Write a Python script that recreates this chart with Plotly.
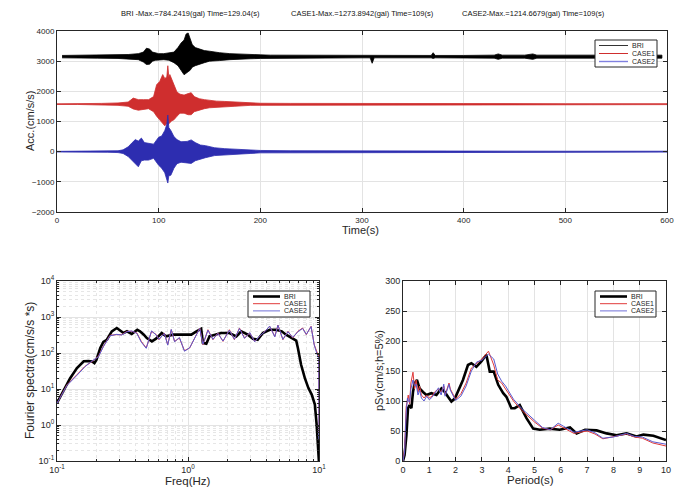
import plotly.graph_objects as go

# ---------------- data ----------------
series_names = ["BRI", "CASE1", "CASE2"]
offset_step = 1575  # vertical separation of time histories (gal)

# Time-history envelopes (upper / lower deviation from each trace's baseline)
t_bri = [5, 20, 40, 60, 70, 80, 85, 88, 91, 94, 97, 100, 105, 110, 115, 119, 122, 125, 127, 129,
         131, 133, 136, 140, 145, 150, 155, 160, 170, 180, 190, 200, 210, 230, 260, 300, 308, 310,
         312, 330, 360, 368, 370, 372, 400, 430, 434, 438, 460, 468, 472, 500, 530, 560, 595]
up_bri = [40, 50, 50, 60, 70, 100, 150, 280, 250, 150, 120, 100, 100, 120, 150, 300, 450, 550, 750, 784,
          600, 400, 300, 250, 200, 180, 150, 130, 100, 80, 70, 60, 50, 50, 40, 40, 40, 60,
          40, 40, 40, 40, 130, 40, 40, 50, 90, 50, 50, 90, 50, 50, 50, 50, 50]
lo_bri = [-40, -50, -50, -60, -70, -100, -180, -260, -250, -150, -120, -100, -100, -120, -200, -300, -450, -600, -550, -500,
          -450, -350, -300, -250, -200, -150, -150, -130, -100, -80, -70, -60, -50, -50, -40, -40, -40, -220,
          -40, -40, -40, -40, -60, -40, -40, -50, -90, -50, -50, -90, -50, -50, -50, -50, -50]

t_c1 = [0, 20, 44, 60, 70, 75, 80, 85, 90, 95, 98, 101, 104, 106, 108, 109, 110, 111, 113, 115,
        118, 121, 125, 129, 132, 135, 140, 145, 150, 157, 165, 175, 190, 200, 230, 260, 300, 400, 500, 600]
up_c1 = [10, 10, 25, 40, 70, 200, 150, 150, 150, 250, 645, 750, 980, 850, 900, 1274, 900, 980, 800, 600,
         400, 330, 300, 350, 380, 250, 180, 150, 120, 100, 90, 70, 40, 30, 25, 20, 20, 20, 15, 15]
lo_c1 = [-10, -10, -25, -40, -70, -160, -200, -180, -150, -250, -400, -520, -650, -720, -650, -700, -650, -600, -550, -520,
         -400, -300, -300, -350, -350, -250, -200, -150, -120, -100, -90, -70, -40, -30, -25, -20, -20, -20, -15, -15]

t_c2 = [0, 30, 50, 60, 65, 70, 74, 77, 80, 83, 86, 90, 95, 100, 103, 106, 108, 109, 110, 112,
        115, 118, 122, 128, 132, 136, 141, 146, 155, 165, 175, 190, 200, 230, 260, 300, 400, 500, 600]
up_c2 = [10, 15, 20, 30, 60, 160, 300, 400, 350, 450, 300, 280, 250, 480, 520, 700, 900, 1215, 800, 700,
         500, 400, 330, 340, 390, 300, 220, 200, 130, 100, 80, 60, 40, 30, 25, 20, 20, 15, 15]
lo_c2 = [-10, -15, -20, -30, -60, -160, -280, -400, -500, -300, -280, -280, -220, -450, -550, -700, -900, -1040, -800, -780,
         -550, -400, -350, -380, -390, -300, -250, -200, -130, -100, -80, -60, -40, -30, -25, -20, -20, -15, -15]

titles_top = ["BRI -Max.=784.2419(gal) Time=129.04(s)",
              "CASE1-Max.=1273.8942(gal) Time=109(s)",
              "CASE2-Max.=1214.6679(gal) Time=109(s)"]

# Fourier spectra
f_bri = [0.1, 0.112, 0.126, 0.142, 0.16, 0.174, 0.185, 0.193, 0.2, 0.214, 0.226, 0.24, 0.262, 0.286, 0.3,
         0.322, 0.342, 0.372, 0.41, 0.43, 0.46, 0.485, 0.53, 0.57, 0.63, 0.68, 0.77, 0.86, 0.97, 1.06,
         1.16, 1.26, 1.3, 1.38, 1.46, 1.6, 1.79, 2.07, 2.34, 2.55, 2.86, 3.13, 3.4, 3.73, 4.2,
         4.7, 5.2, 5.6, 6.3, 6.7, 6.9, 7.3, 7.8, 8.3, 8.8, 9.3, 9.6, 9.96, 10]
a_bri = [4.1, 8.6, 20, 38, 59, 60, 58, 52, 64, 138, 202, 234, 400, 495, 443,
         360, 400, 336, 443, 400, 323, 260, 210, 250, 360, 290, 323, 323, 323, 323,
         400, 470, 190, 180, 290, 323, 360, 360, 290, 400, 323, 250, 234, 360, 443,
         443, 400, 323, 250, 220, 138, 47, 20, 10.6, 7, 3.7, 1, 0.18, 0.09]
f_case = [0.1, 0.119, 0.142, 0.164, 0.185, 0.207, 0.226, 0.254, 0.286, 0.312, 0.342, 0.372, 0.407, 0.44, 0.48,
          0.527, 0.573, 0.6, 0.66, 0.7, 0.745, 0.79, 0.86, 0.94, 1.03, 1.12, 1.23, 1.3, 1.42, 1.55,
          1.69, 1.85, 2.07, 2.26, 2.47, 2.7, 2.96, 3.23, 3.53, 3.86, 4.2, 4.6, 4.86, 5.3, 5.8,
          6.3, 6.9, 7.5, 8.0, 8.7, 9.2, 9.6, 9.96, 10]
a_c1 = [4, 13, 25, 43, 58, 81, 153, 310, 323, 323, 400, 400, 360, 210, 138,
        400, 323, 234, 360, 170, 443, 210, 260, 116, 138, 260, 495, 170, 443, 234,
        360, 210, 443, 234, 495, 260, 360, 210, 290, 400, 550, 290, 600, 234, 400,
        260, 400, 495, 323, 550, 170, 112, 80, 0.6]
a_c2 = [4, 12.5, 24, 42, 60, 78, 150, 300, 330, 315, 390, 410, 350, 200, 135,
        410, 315, 240, 350, 165, 450, 205, 270, 112, 140, 250, 480, 175, 430, 240,
        350, 215, 430, 240, 480, 255, 370, 205, 300, 390, 560, 280, 590, 240, 390,
        270, 390, 480, 330, 540, 165, 100, 70, 0.4]

# pseudo velocity response spectra
T_bri = [0, 0.06, 0.13, 0.19, 0.25, 0.32, 0.38, 0.44, 0.53, 0.63, 0.76, 0.89, 1.08, 1.27, 1.46,
         1.59, 1.71, 1.84, 1.97, 2.09, 2.28, 2.47, 2.6, 2.79, 2.98, 3.17, 3.3, 3.45, 3.62, 3.81,
         3.93, 4.12, 4.25, 4.44, 4.7, 4.95, 5.2, 5.58, 5.96, 6.35, 6.6, 6.92, 7.36, 7.74, 8.12,
         8.5, 8.88, 9.14, 9.52, 10]
sv_bri = [0, 10, 43, 88, 93, 88, 115, 129, 135, 121, 115, 110, 113, 110, 121,
          115, 107, 99, 104, 115, 135, 160, 163, 157, 166, 177, 149, 149, 127, 113,
          107, 88, 88, 93, 71, 54, 52, 54, 52, 56, 46, 52, 51, 46, 43,
          46, 41, 44, 42, 35]
T_case = [0, 0.06, 0.12, 0.17, 0.2, 0.25, 0.3, 0.38, 0.44, 0.5, 0.57, 0.63, 0.7, 0.8, 0.9,
          1.0, 1.1, 1.2, 1.35, 1.45, 1.55, 1.6, 1.75, 1.8, 1.9, 2.0, 2.2, 2.4, 2.6, 2.8,
          3.0, 3.25, 3.45, 3.6, 3.75, 3.9, 4.2, 4.5, 5.0, 5.3, 5.6, 5.9, 6.1, 6.5, 7.0,
          7.3, 7.6, 8.0, 8.5, 8.8, 9.1, 9.5, 10]
sv_c1 = [0, 20, 90, 100, 110, 95, 130, 148, 120, 135, 115, 125, 110, 105, 110,
         105, 108, 115, 120, 115, 125, 110, 130, 120, 110, 103, 112, 130, 155, 163,
         170, 183, 160, 135, 130, 120, 100, 85, 65, 55, 52, 60, 55, 46, 50,
         45, 37, 40, 45, 40, 38, 30, 25]
sv_c2 = [0, 15, 80, 105, 100, 98, 120, 135, 125, 128, 110, 118, 105, 100, 108,
         102, 106, 112, 122, 110, 128, 108, 128, 118, 108, 101, 108, 125, 150, 165,
         168, 178, 170, 145, 133, 125, 103, 88, 68, 56, 52, 63, 58, 48, 52,
         47, 38, 40, 46, 41, 40, 32, 28]

# ---------------- style ----------------
FONT = "Liberation Sans"
C_BLK, C_RED, C_BLU = "#000000", "#cf2e2e", "#2d2db0"
C_RED_L, C_BLU_L = "#e03a3a", "#5a5ad0"
AXC = "#262626"
GRID = "#e3e3e3"
W, H = 674, 487


def px_x(p):
    return p / W


def px_y(p):
    return 1 - p / H


fig = go.Figure()


# ---- top: time histories as filled envelopes ----
def envelope(t, up, lo, base, color, name):
    xs = list(t) + list(t)[::-1]
    ys = [base + u for u in up] + [base + l for l in lo][::-1]
    fig.add_trace(go.Scatter(x=xs, y=ys, mode="lines", fill="toself", fillcolor=color,
                             line=dict(color=color, width=0.8), name=name, showlegend=False,
                             xaxis="x", yaxis="y", hoverinfo="skip"))


envelope(t_bri, up_bri, lo_bri, 2 * offset_step, C_BLK, "BRI")
envelope(t_c1, up_c1, lo_c1, offset_step, C_RED, "CASE1")
envelope(t_c2, up_c2, lo_c2, 0, C_BLU, "CASE2")

# ---- bottom-left: Fourier spectra ----
fig.add_trace(go.Scatter(x=f_bri, y=a_bri, mode="lines", name="BRI", line=dict(color=C_BLK, width=2.6),
                         xaxis="x2", yaxis="y2", showlegend=False))
fig.add_trace(go.Scatter(x=f_case, y=a_c1, mode="lines", name="CASE1", line=dict(color=C_RED_L, width=1),
                         xaxis="x2", yaxis="y2", showlegend=False))
fig.add_trace(go.Scatter(x=f_case, y=a_c2, mode="lines", name="CASE2", line=dict(color=C_BLU_L, width=1),
                         xaxis="x2", yaxis="y2", showlegend=False))

# ---- bottom-right: pSv ----
fig.add_trace(go.Scatter(x=T_bri, y=sv_bri, mode="lines", name="BRI", line=dict(color=C_BLK, width=2.6),
                         xaxis="x3", yaxis="y3", showlegend=False))
fig.add_trace(go.Scatter(x=T_case, y=sv_c1, mode="lines", name="CASE1", line=dict(color=C_RED_L, width=1),
                         xaxis="x3", yaxis="y3", showlegend=False))
fig.add_trace(go.Scatter(x=T_case, y=sv_c2, mode="lines", name="CASE2", line=dict(color=C_BLU_L, width=1),
                         xaxis="x3", yaxis="y3", showlegend=False))

base_axis = dict(showline=True, linecolor=AXC, linewidth=1, mirror="ticks", ticks="inside",
                 ticklen=4, tickcolor=AXC, showgrid=True, gridcolor=GRID, gridwidth=1,
                 zeroline=False, automargin=False, ticklabeloverflow="allow",
                 tickfont=dict(family=FONT, size=8, color=AXC))

log_minor = dict(showgrid=True, gridcolor="#e6e6e6", griddash="dot", ticks="inside", ticklen=2,
                 tickcolor=AXC)
sup = {-1: "10<sup>-1</sup>", 0: "10<sup>0</sup>", 1: "10<sup>1</sup>", 2: "10<sup>2</sup>",
       3: "10<sup>3</sup>", 4: "10<sup>4</sup>"}

fig.update_layout(
    template="none",
    width=W, height=H, margin=dict(l=0, r=0, t=0, b=0, autoexpand=False),
    paper_bgcolor="white", plot_bgcolor="white", showlegend=False,
    font=dict(family=FONT, color=AXC),
    xaxis=dict(base_axis, domain=[px_x(57), px_x(667)], range=[0, 600], dtick=100, anchor="y"),
    yaxis=dict(base_axis, domain=[px_y(212), px_y(31)], range=[-2000, 4000], dtick=1000, anchor="x"),
    xaxis2=dict(base_axis, type="log", domain=[px_x(57), px_x(319)], range=[-1, 1], anchor="y2",
                tickvals=[0.1, 1, 10], ticktext=[sup[-1], sup[0], sup[1]],
                minor=dict(log_minor, tickvals=[k * 10 ** e for e in (-1, 0) for k in range(2, 10)]),
                tickfont=dict(family=FONT, size=9, color=AXC)),
    yaxis2=dict(base_axis, type="log", domain=[px_y(461), px_y(281)], range=[-1, 4], anchor="x2",
                tickvals=[0.1, 1, 10, 100, 1000, 10000],
                ticktext=[sup[e] for e in range(-1, 5)],
                minor=dict(log_minor, tickvals=[k * 10 ** e for e in (-1, 0, 1, 2, 3) for k in range(2, 10)]),
                tickfont=dict(family=FONT, size=9, color=AXC)),
    xaxis3=dict(base_axis, domain=[px_x(403), px_x(666)], range=[0, 10], dtick=1, anchor="y3",
                tickfont=dict(family=FONT, size=9, color=AXC)),
    yaxis3=dict(base_axis, domain=[px_y(461), px_y(281)], range=[0, 300], dtick=50, anchor="x3",
                tickfont=dict(family=FONT, size=9, color=AXC)),
)

ann = []
shapes = []


def text(txt, x, y, size, angle=0, xanchor="center", color=AXC):
    ann.append(dict(text=txt, x=px_x(x), y=px_y(y), xref="paper", yref="paper", showarrow=False,
                    xanchor=xanchor, yanchor="middle", textangle=angle,
                    font=dict(family=FONT, size=size, color=color)))


for txt, xc in zip(titles_top, [190, 362, 533]):
    text(txt, xc, 13, 7.5, color="#111111")
text("Time(s)", 360, 230, 11)
text("Acc.(cm/s/s)", 30, 121, 11, angle=-90)
text("Fourier spectra(cm/s/s *s)", 30, 371, 12, angle=-90)
text("Freq(Hz)", 188, 481, 11.5)
text("pSv(cm/s;h=5%)", 379, 371, 11, angle=-90)
text("Period(s)", 530, 480, 11.5)


# compact MATLAB-style legends
def legend_box(x0, x1, y0, y1, line_x0, line_x1, rows, text_x, colors, widths):
    shapes.append(dict(type="rect", xref="paper", yref="paper", x0=px_x(x0), x1=px_x(x1),
                       y0=px_y(y1), y1=px_y(y0), line=dict(color=AXC, width=1), fillcolor="white",
                       layer="above"))
    for nm, ry, col, w in zip(series_names, rows, colors, widths):
        shapes.append(dict(type="line", xref="paper", yref="paper", x0=px_x(line_x0), x1=px_x(line_x1),
                           y0=px_y(ry), y1=px_y(ry), line=dict(color=col, width=w), layer="above"))
        text(nm, text_x, ry, 7, xanchor="left")


legend_box(595, 657, 40, 67, 599, 628, [45.5, 53.5, 61.5], 630,
           ["#333333", C_RED, "#8080e0"], [1, 1, 1.4])
legend_box(248, 310, 291, 317, 253, 280, [296.5, 303.7, 310.9], 282,
           [C_BLK, C_RED_L, "#7070d8"], [2.6, 1, 1])
legend_box(595, 656, 291, 317, 600, 627, [296.5, 303.7, 310.9], 629,
           [C_BLK, C_RED_L, "#7070d8"], [2.6, 1, 1])

fig.update_layout(annotations=ann, shapes=shapes)

fig.write_html("out.html")
